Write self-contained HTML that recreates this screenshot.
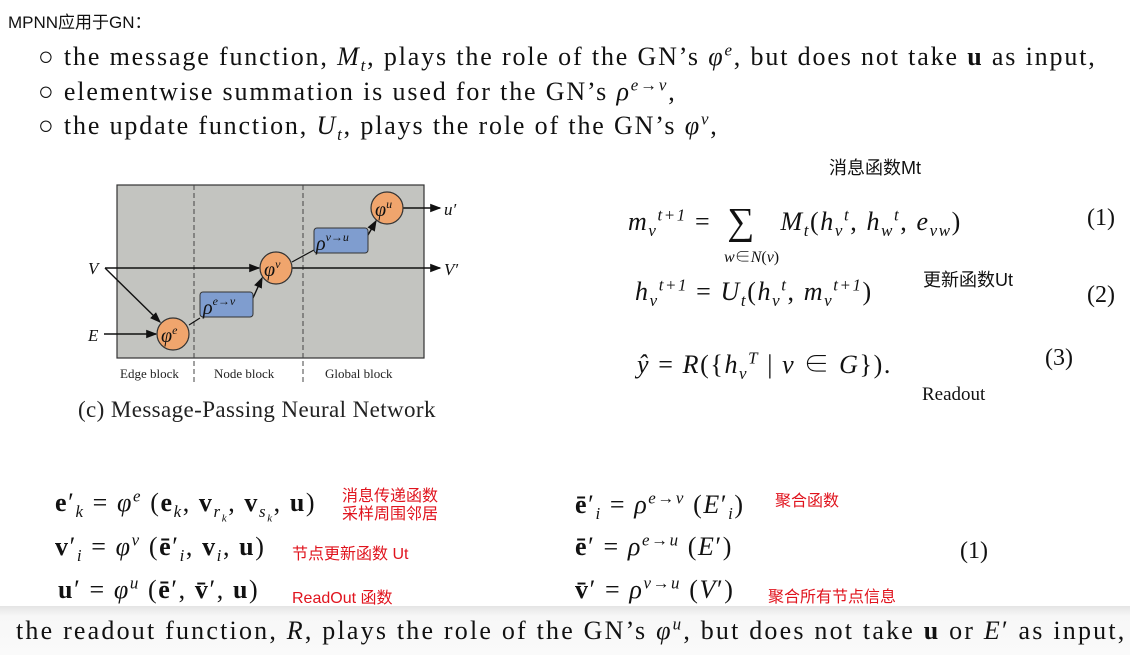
<!DOCTYPE html>
<html><head><meta charset="utf-8"><style>
body{margin:0;width:1130px;height:655px;overflow:hidden;background:#fff;position:relative;font-family:"Liberation Serif","Noto Serif CJK SC",serif;color:#111}
.a{position:absolute;white-space:nowrap}
i{font-style:italic}
b{font-weight:bold}
sup,sub{font-size:65%;line-height:0}
.r{color:#e0141e;font-family:"Liberation Sans","Noto Sans CJK SC",sans-serif;font-size:16px;letter-spacing:0}
.cj{font-family:"Liberation Sans","Noto Sans CJK SC",sans-serif}
.t{font-size:26px;letter-spacing:1.85px}
.f{font-size:26px;letter-spacing:1.6px}
</style></head><body>
<div class="a cj" style="left:8px;top:8px;font-size:17px">MPNN应用于GN：</div>
<div class="a t" style="left:38px;top:42px">○&nbsp;the message function, <i>M<sub>t</sub></i>, plays the role of the GN’s <i>φ<sup>e</sup></i>, but does not take <b>u</b> as input,</div>
<div class="a t" style="left:38px;top:77px">○&nbsp;elementwise summation is used for the GN’s <i>ρ<sup>e→v</sup></i>,</div>
<div class="a t" style="left:38px;top:111px">○&nbsp;the update function, <i>U<sub>t</sub></i>, plays the role of the GN’s <i>φ<sup>v</sup></i>,</div>

<svg class="a" style="left:0;top:0" width="560" height="470">
<defs><marker id="m" markerWidth="8" markerHeight="8" refX="7" refY="4" orient="auto"><path d="M0,1 L8,4 L0,7 z" fill="#111"/></marker></defs>
<rect x="117" y="185" width="307" height="173" fill="#c3c4c0" stroke="#333" stroke-width="1.2"/>
<line x1="194" y1="185" x2="194" y2="383" stroke="#444" stroke-dasharray="5,3"/>
<line x1="303" y1="185" x2="303" y2="383" stroke="#444" stroke-dasharray="5,3"/>
<g stroke="#111" stroke-width="1.4" fill="none" marker-end="url(#m)">
<line x1="105" y1="268" x2="259" y2="268"/>
<line x1="105" y1="268" x2="160" y2="322"/>
<line x1="104" y1="334" x2="156" y2="334"/>
<line x1="253" y1="298" x2="262" y2="278"/>
<line x1="368" y1="235" x2="376" y2="221"/>
<line x1="292" y1="268" x2="440" y2="268"/>
<line x1="403" y1="208" x2="440" y2="208"/>
</g>
<g stroke="#111" stroke-width="1.2">
<line x1="189" y1="325" x2="200" y2="318"/>
<line x1="292" y1="262" x2="314" y2="250"/>
</g>
<rect x="200" y="292" width="53" height="25" rx="3" fill="#7f9dcf" stroke="#333"/>
<rect x="314" y="228" width="54" height="25" rx="3" fill="#7f9dcf" stroke="#333"/>
<g fill="#f0a56d" stroke="#333" stroke-width="1.2">
<circle cx="173" cy="334" r="16"/><circle cx="276" cy="268" r="16"/><circle cx="387" cy="208" r="16"/>
</g>
<g font-family="Liberation Serif,serif" font-style="italic" fill="#111">
<text x="161" y="342" font-size="20">φ<tspan font-size="12" dy="-8">e</tspan></text>
<text x="264" y="276" font-size="20">φ<tspan font-size="12" dy="-8">v</tspan></text>
<text x="375" y="216" font-size="20">φ<tspan font-size="12" dy="-8">u</tspan></text>
<text x="203" y="314" font-size="20">ρ<tspan font-size="12" dy="-9">e→v</tspan></text>
<text x="316" y="250" font-size="20">ρ<tspan font-size="12" dy="-9">v→u</tspan></text>
<text x="88" y="274" font-size="17">V</text>
<text x="88" y="341" font-size="17">E</text>
<text x="444" y="215" font-size="17">u′</text>
<text x="444" y="275" font-size="17">V′</text>
</g>
<g font-family="Liberation Serif,serif" font-size="13" fill="#222">
<text x="120" y="378">Edge block</text><text x="214" y="378">Node block</text><text x="325" y="378">Global block</text>
</g>
<text x="78" y="417" font-family="Liberation Serif,serif" font-size="23" letter-spacing="0.4" fill="#222">(c) Message-Passing Neural Network</text>
</svg>

<div class="a cj" style="left:829px;top:154px;font-size:18px">消息函数Mt</div>
<div class="a f" style="left:628px;top:196px"><i>m<sub>v</sub><sup>t+1</sup></i> = &nbsp;<span style="font-size:38px;position:relative;top:4px">∑</span> &nbsp;&nbsp;<i>M<sub>t</sub></i>(<i>h<sub>v</sub><sup>t</sup></i>, <i>h<sub>w</sub><sup>t</sup></i>, <i>e<sub>vw</sub></i>)</div>
<div class="a" style="left:724px;top:244px;font-size:16px"><i>w</i>∈<i>N</i>(<i>v</i>)</div>
<div class="a" style="left:1087px;top:205px;font-size:24px">(1)</div>
<div class="a cj" style="left:923px;top:266px;font-size:18px">更新函数Ut</div>
<div class="a f" style="left:635px;top:277px"><i>h<sub>v</sub><sup>t+1</sup></i> = <i>U<sub>t</sub></i>(<i>h<sub>v</sub><sup>t</sup></i>, <i>m<sub>v</sub><sup>t+1</sup></i>)</div>
<div class="a" style="left:1087px;top:282px;font-size:24px">(2)</div>
<div class="a f" style="left:637px;top:344px"><i>ŷ</i> = <i>R</i>({<i>h<sub>v</sub><sup>T</sup></i> | <i>v</i> ∈ <i>G</i>}).</div>
<div class="a" style="left:1045px;top:345px;font-size:24px">(3)</div>
<div class="a" style="left:922px;top:384px;font-size:19px">Readout</div>

<div class="a f" style="left:55px;top:488px"><b>e</b>′<sub><i>k</i></sub> = <i>φ<sup>e</sup></i> (<b>e</b><sub><i>k</i></sub>, <b>v</b><sub><i>r<sub>k</sub></i></sub>, <b>v</b><sub><i>s<sub>k</sub></i></sub>, <b>u</b>)</div>
<div class="a r" style="left:342px;top:488px;line-height:18px">消息传递函数<br>采样周围邻居</div>
<div class="a f" style="left:55px;top:532px"><b>v</b>′<sub><i>i</i></sub> = <i>φ<sup>v</sup></i> (<b>ē</b>′<sub><i>i</i></sub>, <b>v</b><sub><i>i</i></sub>, <b>u</b>)</div>
<div class="a r" style="left:292px;top:540px">节点更新函数 Ut</div>
<div class="a f" style="left:58px;top:575px"><b>u</b>′ = <i>φ<sup>u</sup></i> (<b>ē</b>′, <b>v̄</b>′, <b>u</b>)</div>
<div class="a r" style="left:292px;top:584px">ReadOut 函数</div>

<div class="a f" style="left:575px;top:490px"><b>ē</b>′<sub><i>i</i></sub> = <i>ρ<sup>e→v</sup></i> (<i>E</i>′<sub><i>i</i></sub>)</div>
<div class="a r" style="left:775px;top:487px">聚合函数</div>
<div class="a f" style="left:575px;top:532px"><b>ē</b>′ = <i>ρ<sup>e→u</sup></i> (<i>E</i>′)</div>
<div class="a" style="left:960px;top:538px;font-size:24px">(1)</div>
<div class="a f" style="left:575px;top:575px"><b>v̄</b>′ = <i>ρ<sup>v→u</sup></i> (<i>V</i>′)</div>
<div class="a r" style="left:768px;top:583px">聚合所有节点信息</div>

<div class="a" style="left:0;top:606px;width:1130px;height:49px;background:linear-gradient(#e4e4e4,#f7f7f7 20%,#fafafa)"></div>
<div class="a" style="left:16px;top:616px;font-size:26px;letter-spacing:2.2px">the readout function, <i>R</i>, plays the role of the GN’s <i>φ<sup>u</sup></i>, but does not take <b>u</b> or <i>E</i>′ as input,</div>
</body></html>
